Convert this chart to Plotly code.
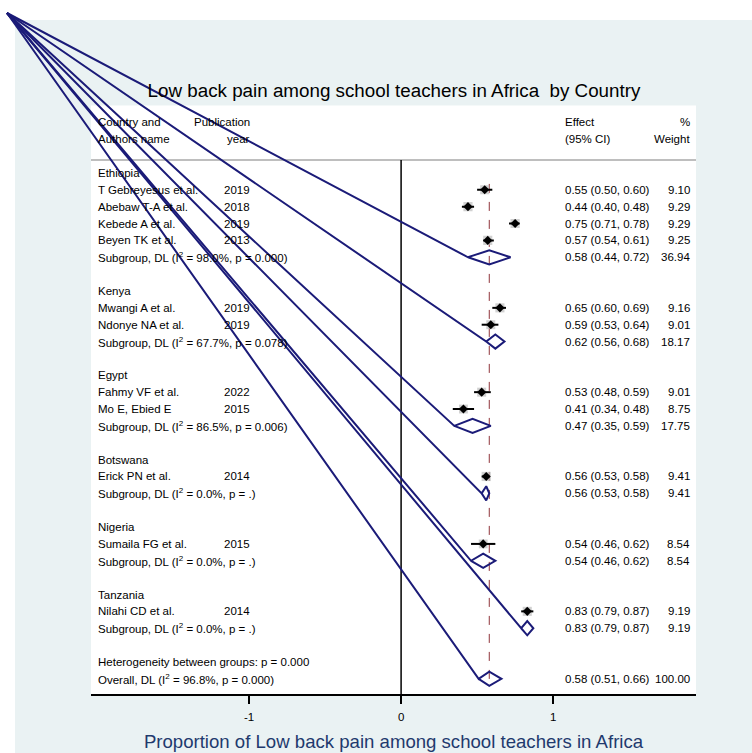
import plotly.graph_objects as go

# ---------------------------------------------------------------- data
groups = ["Ethiopia", "Kenya", "Egypt", "Botswana", "Nigeria", "Tanzania"]

study_group = ["Ethiopia", "Ethiopia", "Ethiopia", "Ethiopia",
               "Kenya", "Kenya", "Egypt", "Egypt",
               "Botswana", "Nigeria", "Tanzania"]
study_author = ["T Gebreyesus et al.", "Abebaw T-A et al.", "Kebede A et al.",
                "Beyen TK et al.", "Mwangi A et al.", "Ndonye NA et al.",
                "Fahmy VF et al.", "Mo E, Ebied E", "Erick PN et al.",
                "Sumaila FG et al.", "Nilahi CD et al."]
study_year = [2019, 2018, 2019, 2013, 2019, 2019, 2022, 2015, 2014, 2015, 2014]
study_es = [0.55, 0.44, 0.75, 0.57, 0.65, 0.59, 0.53, 0.41, 0.56, 0.54, 0.83]
study_lo = [0.50, 0.40, 0.71, 0.54, 0.60, 0.53, 0.48, 0.34, 0.53, 0.46, 0.79]
study_hi = [0.60, 0.48, 0.78, 0.61, 0.69, 0.64, 0.59, 0.48, 0.58, 0.62, 0.87]
study_wt = [9.10, 9.29, 9.29, 9.25, 9.16, 9.01, 9.01, 8.75, 9.41, 8.54, 9.19]

sub_es = [0.58, 0.62, 0.47, 0.56, 0.54, 0.83]
sub_lo = [0.44, 0.56, 0.35, 0.53, 0.46, 0.79]
sub_hi = [0.72, 0.68, 0.59, 0.58, 0.62, 0.87]
sub_wt = [36.94, 18.17, 17.75, 9.41, 8.54, 9.19]
sub_i2 = [98.0, 67.7, 86.5, 0.0, 0.0, 0.0]
sub_p = ["0.000", "0.078", "0.006", ".", ".", "."]

overall_es, overall_lo, overall_hi, overall_wt = 0.58, 0.51, 0.66, 100.00
overall_i2, overall_p = 96.8, "0.000"
between_p = "0.000"

tick_vals = [-1, 0, 1]
tick_text = ["-1", "0", "1"]

title_text = "Low back pain among school teachers in Africa  by Country"
xaxis_title = "Proportion of Low back pain among school teachers in Africa"

# ---------------------------------------------------------------- layout geometry
W, H = 752, 753
X_LO, X_HI = -2.04, 1.94          # main axis range (effect scale)
Y_TOP, Y_BOT = -4.0, 30.9         # row scale, top to bottom
PX_L, PX_R = 91, 696              # plot box in pixels
PY_T, PY_B = 105.5, 694
ppx = (PX_R - PX_L) / (X_HI - X_LO)
ppy = (PY_B - PY_T) / (Y_BOT - Y_TOP)

# full-figure overlay axes with the same scale as the main axes
X2_RANGE = [X_LO - PX_L / ppx, X_HI + (W - PX_R) / ppx]
Y2_RANGE = [Y_BOT + (H - PY_B) / ppy, Y_TOP - PY_T / ppy]
PEN_START = (X2_RANGE[0] + 7 / ppx, Y2_RANGE[1] + 13 / ppy)

COL_NAME, COL_YEAR, COL_EFF, COL_WT = -2.0, -0.985, 1.07, 1.905
HDR_ROWS = (-3.0, -2.0)
SEP_ROW = -0.77
DIAMOND_H = 0.42

NAVY = "#1b1b78"
MAROON = "#90353b"
FONT = "Arial, Liberation Sans, sans-serif"


def eff_label(es, lo, hi):
    return f"{es:.2f} ({lo:.2f}, {hi:.2f})"


def het_label(prefix, i2, p):
    return f"{prefix}, DL (I<sup>2</sup> = {i2:.1f}%, p = {p})"


# ---------------------------------------------------------------- row assignment
rows_text = []      # (row, name, year, effect, weight)
study_rows = []
sub_rows = []
row = 0
for gi, g in enumerate(groups):
    rows_text.append((row, g, "", "", ""))
    row += 1
    for si, sg in enumerate(study_group):
        if sg != g:
            continue
        study_rows.append(row)
        rows_text.append((row, study_author[si], str(study_year[si]),
                          eff_label(study_es[si], study_lo[si], study_hi[si]),
                          f"{study_wt[si]:.2f}"))
        row += 1
    sub_rows.append(row)
    rows_text.append((row, het_label("Subgroup", sub_i2[gi], sub_p[gi]), "",
                      eff_label(sub_es[gi], sub_lo[gi], sub_hi[gi]),
                      f"{sub_wt[gi]:.2f}"))
    row += 2
rows_text.append((row, f"Heterogeneity between groups: p = {between_p}", "", "", ""))
row += 1
overall_row = row
rows_text.append((overall_row, het_label("Overall", overall_i2, overall_p), "",
                  eff_label(overall_es, overall_lo, overall_hi),
                  f"{overall_wt:.2f}"))

fig = go.Figure()

# study weight boxes
fig.add_trace(go.Scatter(
    x=study_es, y=study_rows, mode="markers",
    marker=dict(symbol="square", size=[3.0 * w ** 0.5 for w in study_wt],
                color="#bdbdbd", line=dict(width=0)),
    hoverinfo="skip", showlegend=False))

# study estimates with confidence intervals
fig.add_trace(go.Scatter(
    x=study_es, y=study_rows, mode="markers",
    marker=dict(symbol="diamond", size=7, color="black"),
    error_x=dict(type="data", symmetric=False,
                 array=[h - e for h, e in zip(study_hi, study_es)],
                 arrayminus=[e - l for e, l in zip(study_es, study_lo)],
                 color="black", thickness=2, width=0),
    showlegend=False))

# pooled diamonds (drawn on the full-figure axes, pen starting at the corner)
pool_es = sub_es + [overall_es]
pool_lo = sub_lo + [overall_lo]
pool_hi = sub_hi + [overall_hi]
pool_rows = sub_rows + [overall_row]
for es, lo, hi, r in zip(pool_es, pool_lo, pool_hi, pool_rows):
    fig.add_trace(go.Scatter(
        x=[PEN_START[0], lo, es, hi, es, lo],
        y=[PEN_START[1], r, r - DIAMOND_H, r, r + DIAMOND_H, r],
        mode="lines", line=dict(color=NAVY, width=2),
        xaxis="x2", yaxis="y2", hoverinfo="skip", showlegend=False))

# ---------------------------------------------------------------- text columns
ann = []


def add_text(x, y, txt, anchor, size=11.5):
    if txt == "":
        return
    ann.append(dict(x=x, y=y, xref="x", yref="y", text=txt, showarrow=False,
                    xanchor=anchor, yanchor="middle", borderpad=0,
                    font=dict(family=FONT, size=size, color="black")))


add_text(COL_NAME, HDR_ROWS[0], "Country and", "left")
add_text(COL_NAME, HDR_ROWS[1], "Authors name", "left")
add_text(COL_YEAR, HDR_ROWS[0], "Publication", "right")
add_text(COL_YEAR, HDR_ROWS[1], "year", "right")
add_text(COL_EFF, HDR_ROWS[0], "Effect", "left")
add_text(COL_EFF, HDR_ROWS[1], "(95% CI)", "left")
add_text(COL_WT, HDR_ROWS[0], "%", "right")
add_text(COL_WT, HDR_ROWS[1], "Weight", "right")

for r, name, yr, eff, wt in rows_text:
    add_text(COL_NAME, r, name, "left")
    add_text(COL_YEAR, r, yr, "right")
    add_text(COL_EFF, r, eff, "left")
    add_text(COL_WT, r, wt, "right")

# ---------------------------------------------------------------- shapes
shapes = [
    # figure background
    dict(type="rect", xref="paper", yref="paper", x0=15 / W, x1=1, y0=0,
         y1=1 - 20 / H, fillcolor="#eaf2f3", line=dict(width=0), layer="below"),
    # plot region
    dict(type="rect", xref="paper", yref="paper", x0=PX_L / W, x1=PX_R / W,
         y0=1 - PY_B / H, y1=1 - PY_T / H, fillcolor="white",
         line=dict(width=0), layer="below"),
    # header separator
    dict(type="line", xref="x", yref="y", x0=X_LO, x1=X_HI, y0=SEP_ROW,
         y1=SEP_ROW, line=dict(color="#a8a8a8", width=1.5), layer="below"),
    # null line
    dict(type="line", xref="x", yref="y", x0=0, x1=0, y0=SEP_ROW, y1=Y_BOT,
         line=dict(color="black", width=1.5), layer="below"),
    # overall estimate line
    dict(type="line", xref="x", yref="y", x0=overall_es, x1=overall_es,
         y0=study_rows[0] - 0.35, y1=overall_row + DIAMOND_H,
         line=dict(color=MAROON, width=1, dash="dash"), layer="below"),
]

fig.update_layout(
    width=W, height=H,
    margin=dict(l=0, r=0, t=0, b=0),
    paper_bgcolor="white",
    plot_bgcolor="rgba(0,0,0,0)",
    showlegend=False,
    title=dict(text=title_text, x=394 / W, xanchor="center", xref="paper",
               y=1 - 90 / H, yanchor="middle", yref="paper",
               font=dict(family=FONT, size=18.8, color="black")),
    xaxis=dict(domain=[PX_L / W, PX_R / W], range=[X_LO, X_HI],
               tickvals=tick_vals, ticktext=tick_text, ticks="outside",
               ticklen=8, tickwidth=1.5, tickcolor="black",
               ticklabelstandoff=3,
               showline=True, linecolor="black", linewidth=1.5,
               showgrid=False, zeroline=False, automargin=False,
               tickfont=dict(family=FONT, size=11.5, color="black"),
               title=dict(text=xaxis_title, standoff=13,
                          font=dict(family=FONT, size=18.6, color="#1f3a6e"))),
    yaxis=dict(domain=[1 - PY_B / H, 1 - PY_T / H], range=[Y_BOT, Y_TOP],
               visible=False, showgrid=False, zeroline=False),
    xaxis2=dict(domain=[0, 1], range=X2_RANGE, anchor="y2", visible=False,
                showgrid=False, zeroline=False),
    yaxis2=dict(domain=[0, 1], range=Y2_RANGE, anchor="x2", visible=False,
                showgrid=False, zeroline=False),
    shapes=shapes,
    annotations=ann,
)

fig.write_html("out.html")
